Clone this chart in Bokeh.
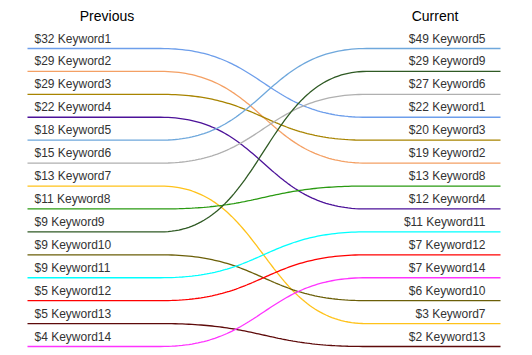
import numpy as np
from bokeh.plotting import figure
from bokeh.models import Range1d, ColumnDataSource
from bokeh.core.properties import value
from bokeh.embed import file_html
from bokeh.resources import INLINE

# ---- data ----
keywords = ["Keyword1", "Keyword2", "Keyword3", "Keyword4", "Keyword5", "Keyword6", "Keyword7",
            "Keyword8", "Keyword9", "Keyword10", "Keyword11", "Keyword12", "Keyword13", "Keyword14"]
previous = [32, 29, 29, 22, 18, 15, 13, 11, 9, 9, 9, 5, 5, 4]
current = [22, 19, 20, 12, 49, 27, 3, 13, 29, 6, 11, 7, 2, 7]
current_order = ["Keyword5", "Keyword9", "Keyword6", "Keyword1", "Keyword3", "Keyword2", "Keyword8",
                 "Keyword4", "Keyword11", "Keyword12", "Keyword14", "Keyword10", "Keyword7", "Keyword13"]
colors = ["#6d9eeb", "#f4a064", "#a88400", "#4c1299", "#6fa8dc", "#b0b0b0", "#ffc21a",
          "#2a9a12", "#2f5a24", "#6b5f08", "#00ffff", "#ff0000", "#5e0a0a", "#ff33ff"]
titles = ["Previous", "Current"]

# ---- layout (pixel-like x units, rank units for y) ----
W, H = 524, 350
X_LEFT, X_C0, X_C1, X_RIGHT = 27, 160, 366, 500
LABEL_L, LABEL_R = 34, 485
TITLE_X = [106.5, 434.5]
TOP_PX, STEP_PX = 48.0, (346.0 - 48.0) / 13.0
y_bottom = (H - TOP_PX) / STEP_PX
y_top = (0 - TOP_PX) / STEP_PX

p = figure(width=W, height=H, x_range=Range1d(0, W), y_range=Range1d(y_bottom, y_top),
           toolbar_location=None, output_backend="svg", min_border=0)
p.axis.visible = False
p.grid.visible = False
p.outline_line_color = None
p.background_fill_color = "white"
p.border_fill_color = "white"

left_rank = list(range(len(keywords)))
right_rank = [current_order.index(k) for k in keywords]

t = np.linspace(0, 1, 80)
xm = (X_C0 + X_C1) / 2
xs, ys = [], []
for r0, r1 in zip(left_rank, right_rank):
    bx = (1 - t) ** 3 * X_C0 + 3 * (1 - t) ** 2 * t * xm + 3 * (1 - t) * t ** 2 * xm + t ** 3 * X_C1
    by = (1 - t) ** 3 * r0 + 3 * (1 - t) ** 2 * t * r0 + 3 * (1 - t) * t ** 2 * r1 + t ** 3 * r1
    xs.append([X_LEFT] + list(bx) + [X_RIGHT])
    ys.append([r0] + list(by) + [r1])

p.multi_line(xs=xs, ys=ys, line_color=colors, line_width=1.3)

LABEL_OFF = -10
left_src = ColumnDataSource(dict(
    x=[LABEL_L] * len(keywords), y=left_rank,
    t=[f"${v} {k}" for v, k in zip(previous, keywords)]))
p.text(x="x", y="y", text="t", source=left_src, text_font=value("Liberation Sans"),
       text_font_size="12px", text_color="#333333", text_align="left",
       text_baseline="alphabetic", y_offset=LABEL_OFF)

cur_map = dict(zip(keywords, current))
right_src = ColumnDataSource(dict(
    x=[LABEL_R] * len(keywords), y=list(range(len(current_order))),
    t=[f"${cur_map[k]} {k}" for k in current_order]))
p.text(x="x", y="y", text="t", source=right_src, text_font=value("Liberation Sans"),
       text_font_size="12px", text_color="#333333", text_align="right",
       text_baseline="alphabetic", y_offset=LABEL_OFF)

title_y = (15 - TOP_PX) / STEP_PX
p.text(x=TITLE_X, y=[title_y, title_y], text=titles, text_font=value("Liberation Sans"),
       text_font_size="14px", text_color="#000000", text_align="center",
       text_baseline="alphabetic")

open("out.html", "w").write(file_html(p, INLINE))
